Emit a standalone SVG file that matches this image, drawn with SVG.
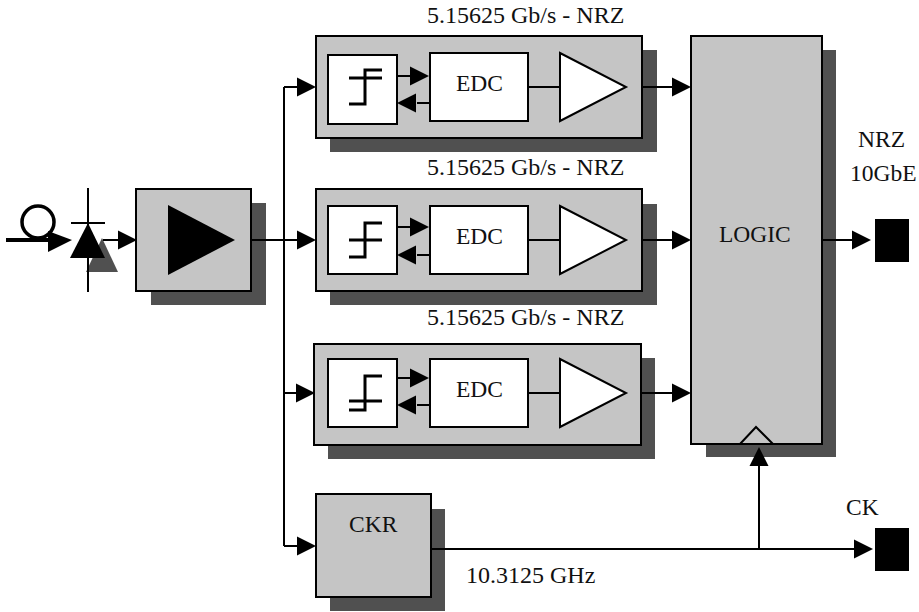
<svg xmlns="http://www.w3.org/2000/svg" width="919" height="612" viewBox="0 0 919 612">
<style>
text{font-family:"Liberation Serif","Times New Roman",serif;font-size:23.5px;fill:#111}
text.b{font-size:24px}
.s{fill:#505050}
.g{fill:#c5c5c5;stroke:#000;stroke-width:2}
.w{fill:#fff;stroke:#000;stroke-width:2}
.l{fill:none;stroke:#000;stroke-width:2}
.t{fill:none;stroke:#000;stroke-width:3}
.k{fill:#000}
</style>
<defs>
<polygon id="ah" class="k" points="-19,-9.5 0,0 -19,9.5"/>
</defs>
<rect width="919" height="612" fill="#fff"/>

<g id="input">
<circle cx="38" cy="222" r="16" fill="none" stroke="#000" stroke-width="3.5"/>
<path d="M6 240H50" fill="none" stroke="#000" stroke-width="4"/>
<polygon class="k" points="48,231 72,240 48,252"/>
</g>

<g id="photodiode">
<polygon class="s" points="102,238 86,272 118,272"/>
<path class="l" d="M88 188V292M71 223H105"/>
<polygon class="k" points="88,223 70,258 105,258"/>
</g>

<g id="amplifier">
<rect class="s" x="151" y="203" width="115" height="102"/>
<rect class="g" x="136" y="189" width="115" height="102"/>
<polygon class="k" points="168,205 168,275 235,240"/>
</g>

<g id="channel1">
<rect class="s" x="330" y="50" width="327" height="102"/>
<rect class="g" x="316" y="36" width="326" height="102"/>
<rect class="w" x="328" y="55" width="69" height="69"/>
<rect class="w" x="430" y="53" width="98" height="68"/>
<polygon class="w" points="560,53 560,121 626,87"/>
<path class="t" d="M349 104H365V70H382M349 78H382"/>
<text x="456" y="91">EDC</text>
</g>

<g id="channel2">
<rect class="s" x="330" y="204" width="327" height="101"/>
<rect class="g" x="316" y="189" width="326" height="102"/>
<rect class="w" x="328" y="206" width="69" height="68"/>
<rect class="w" x="430" y="206" width="98" height="68"/>
<polygon class="w" points="560,206 560,274 626,240"/>
<path class="t" d="M349 257H365V223H382M349 240H382"/>
<text x="456" y="244">EDC</text>
</g>

<g id="channel3">
<rect class="s" x="328" y="358" width="327" height="101"/>
<rect class="g" x="314" y="344" width="327" height="101"/>
<rect class="w" x="328" y="359" width="69" height="68"/>
<rect class="w" x="430" y="359" width="98" height="68"/>
<polygon class="w" points="560,359 560,427 626,393"/>
<path class="t" d="M349 410H365V376H382M349 401H382"/>
<text x="456" y="397">EDC</text>
</g>

<g id="logic">
<rect class="s" x="706" y="50" width="130" height="407"/>
<rect class="g" x="691" y="36" width="131" height="408"/>
<path class="l" d="M740 444L756 427L773 444"/>
<text x="719" y="242">LOGIC</text>
</g>

<g id="ckr">
<rect class="s" x="330" y="509" width="115" height="102"/>
<rect class="g" x="316" y="494" width="115" height="103"/>
<text x="349" y="532">CKR</text>
</g>

<g id="out-data"><rect class="k" x="875" y="219" width="34" height="43"/></g>
<g id="out-clock"><rect class="k" x="875" y="528" width="34" height="43"/></g>

<g id="connectors">
<path class="l" d="M103 240H120"/>
<use href="#ah" x="137" y="240"/>
<path class="l" d="M284 87V546M284 87H300M284 393H300M284 546H300"/>
<path class="l" d="M251 240H300"/>
<path class="l" d="M642 87H675M642 240H675M641 393H675M822 240H855"/>
<path class="l" d="M431 549H858M759 549V462"/>
<path class="l" d="M528 87H560M397 76H412M417 103H430"/>
<path class="l" d="M528 240H560M397 227H412M417 255H430"/>
<path class="l" d="M528 393H560M397 378H412M417 405H430"/>
<use href="#ah" x="429" y="76"/>
<use href="#ah" transform="translate(397 103) rotate(180)"/>
<use href="#ah" x="429" y="227"/>
<use href="#ah" transform="translate(397 255) rotate(180)"/>
<use href="#ah" x="429" y="378"/>
<use href="#ah" transform="translate(397 405) rotate(180)"/>
<use href="#ah" x="316" y="87"/>
<use href="#ah" x="316" y="240"/>
<use href="#ah" x="315" y="393"/>
<use href="#ah" x="316" y="546"/>
<use href="#ah" x="691" y="87"/>
<use href="#ah" x="691" y="240"/>
<use href="#ah" x="691" y="393"/>
<use href="#ah" x="871" y="240"/>
<use href="#ah" x="873" y="549"/>
<use href="#ah" transform="translate(759 447) rotate(-90)"/>
</g>

<g id="labels">
<text class="b" x="427" y="23">5.15625 Gb/s - NRZ</text>
<text class="b" x="427" y="175">5.15625 Gb/s - NRZ</text>
<text class="b" x="427" y="325">5.15625 Gb/s - NRZ</text>
<text x="858" y="147">NRZ</text>
<text x="850" y="181">10GbE</text>
<text x="846" y="515">CK</text>
<text x="466" y="583" style="font-size:24px">10.3125 GHz</text>
</g>
</svg>
